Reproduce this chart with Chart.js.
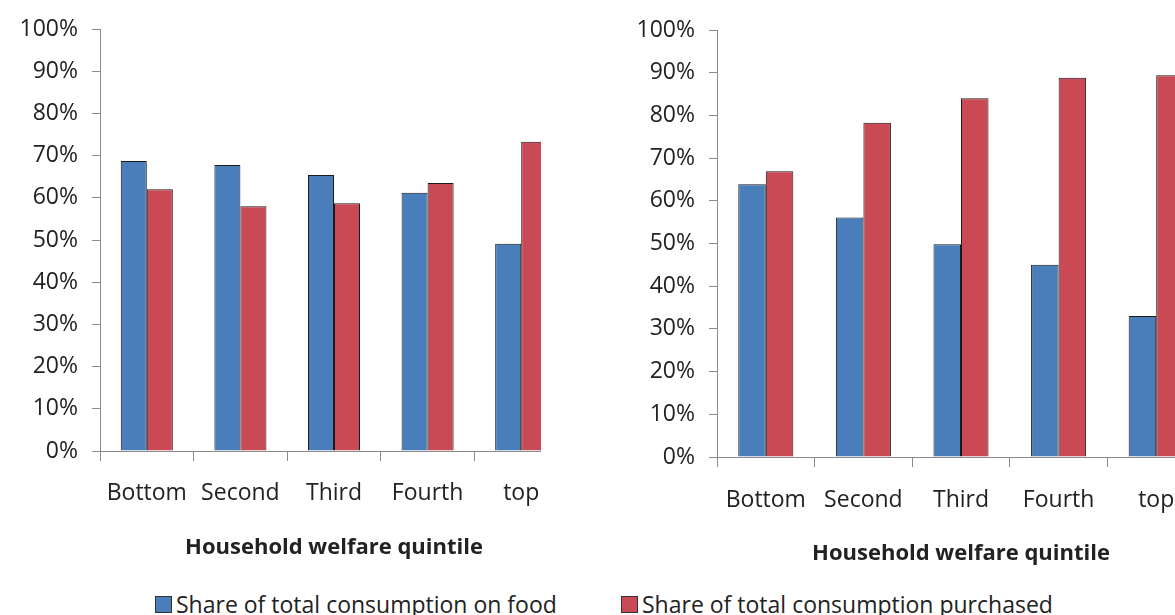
<!DOCTYPE html>
<html>
<head>
<meta charset="utf-8">
<script src="https://cdn.jsdelivr.net/npm/chart.js@4/dist/chart.umd.min.js"></script>
<style>
  html, body { margin: 0; padding: 0; background: #fff; width: 1175px; height: 615px; overflow: hidden; position: relative; }
  .wrap { position: absolute; top: 0; overflow: hidden; }
  #leftWrap { left: 0; width: 541px; height: 570px; }
  #rightWrap { left: 600px; width: 575px; height: 575px; }
  .leg { position: absolute; top: 591px; height: 26px; font-family: 'Open Sans', sans-serif; font-size: 23px; color: #222; white-space: nowrap; line-height: 26px; }
  .leg .sw { position: absolute; left: 0; top: 5px; width: 15px; height: 15px; border: 1px solid #333; }
  .leg .tx { position: absolute; left: 21px; top: 0; }
</style>
</head>
<body>
<div id="leftWrap" class="wrap"><canvas id="left" width="568" height="561"></canvas></div>
<div id="rightWrap" class="wrap"><canvas id="right" width="605" height="567"></canvas></div>
<div id="legend"></div>
<script>
const categories = ['Bottom', 'Second', 'Third', 'Fourth', 'top'];
const seriesNames = ['Share of total consumption on food', 'Share of total consumption purchased'];
const foodShareLeft = [68.7, 67.8, 65.4, 61.2, 49.1];
const purchasedShareLeft = [62.0, 58.0, 58.7, 63.5, 73.3];
const foodShareRight = [63.9, 56.1, 49.8, 45.0, 33.0];
const purchasedShareRight = [66.9, 78.3, 84.0, 88.8, 89.4];
const yTickValues = [0, 10, 20, 30, 40, 50, 60, 70, 80, 90, 100];
const xAxisTitle = 'Household welfare quintile';

const BLUE = '#4A7EBB';
const RED = '#C94A55';
const AXIS = '#8a8a8a';
const TEXT = '#222';
const FONT = 'Open Sans';

function makeChart(id, food, purchased, opts) {
  return new Chart(document.getElementById(id), {
    type: 'bar',
    data: {
      labels: categories,
      datasets: [
        { label: seriesNames[0], data: food, backgroundColor: BLUE, borderColor: '#1a1a1a', borderWidth: 1,
          categoryPercentage: opts.cat, barPercentage: 1.0 },
        { label: seriesNames[1], data: purchased, backgroundColor: RED, borderColor: '#1a1a1a', borderWidth: 1,
          categoryPercentage: opts.cat, barPercentage: 1.0 }
      ]
    },
    options: {
      responsive: false,
      animation: false,
      devicePixelRatio: 1,
      layout: { padding: { top: opts.top, right: 0, bottom: 0, left: 0 } },
      plugins: { legend: { display: false }, tooltip: { enabled: false }, title: { display: false } },
      scales: {
        x: {
          afterFit: s => { s.height = 110; },
          border: { display: true, color: AXIS, width: 1 },
          grid: { display: true, drawOnChartArea: false, drawTicks: true, tickLength: 10, color: AXIS, offset: true },
          ticks: { color: TEXT, font: { family: FONT, size: 23 }, padding: opts.xpad, maxRotation: 0, autoSkip: false },
          title: { display: true, text: xAxisTitle, color: TEXT, font: { family: FONT, size: 22, weight: 'bold' },
                   padding: { top: 0, bottom: 0 } }
        },
        y: {
          min: 0, max: 100,
          afterFit: s => { s.width = opts.yw; },
          afterBuildTicks: s => { s.ticks = yTickValues.map(v => ({ value: v })); },
          border: { display: true, color: AXIS, width: 1 },
          grid: { display: true, drawOnChartArea: false, drawTicks: true, tickLength: 8, color: AXIS },
          ticks: { color: TEXT, font: { family: FONT, size: 23 }, padding: 14, callback: v => v + '%' }
        }
      }
    }
  });
}

makeChart('left', foodShareLeft, purchasedShareLeft, { cat: 0.556, top: 29, yw: 100, xpad: 19 });
makeChart('right', foodShareRight, purchasedShareRight, { cat: 0.564, top: 30, yw: 117, xpad: 20 });

// legend built from the series names
const legendItems = [
  { name: seriesNames[0], color: BLUE, left: 155 },
  { name: seriesNames[1], color: RED, left: 621 }
];
const legend = document.getElementById('legend');
legendItems.forEach(it => {
  const d = document.createElement('div');
  d.className = 'leg';
  d.style.left = it.left + 'px';
  const sw = document.createElement('span');
  sw.className = 'sw';
  sw.style.background = it.color;
  const tx = document.createElement('span');
  tx.className = 'tx';
  tx.textContent = it.name;
  d.appendChild(sw); d.appendChild(tx);
  legend.appendChild(d);
});
</script>
</body>
</html>
